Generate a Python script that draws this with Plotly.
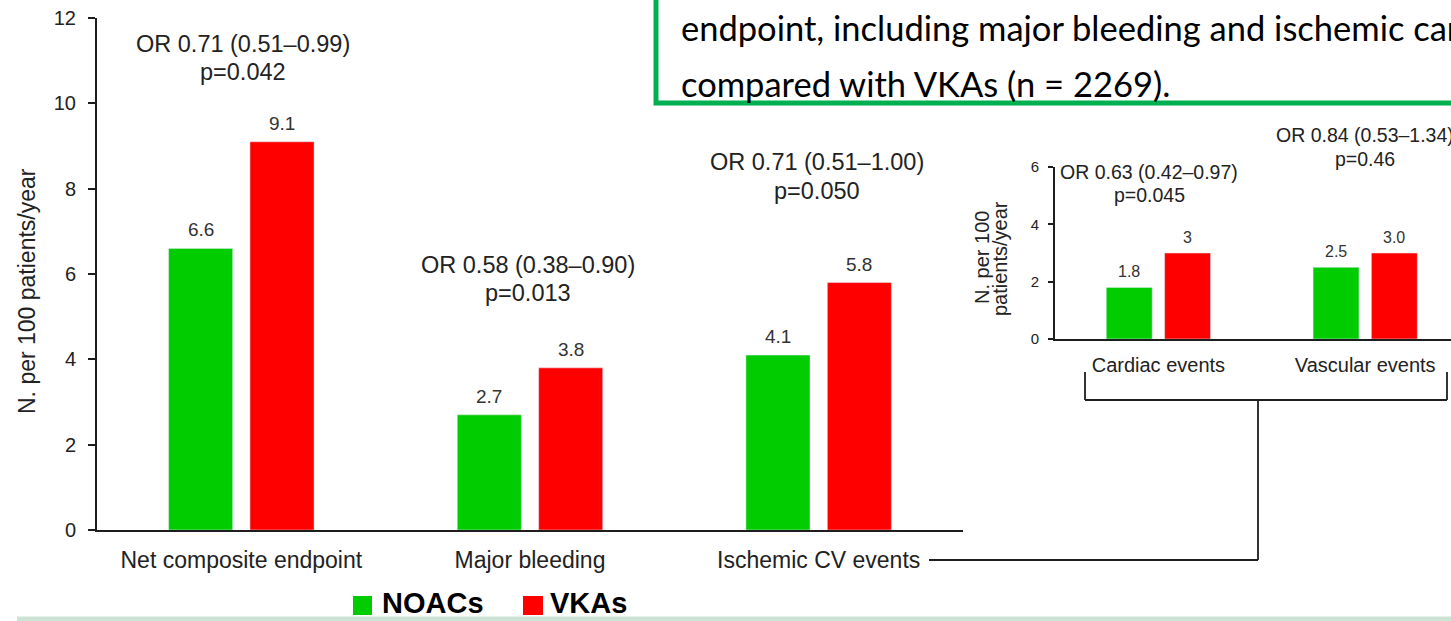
import plotly.graph_objects as go

# ---------------- data ----------------
categories = ["Net composite endpoint", "Major bleeding", "Ischemic CV events"]
noacs = [6.6, 2.7, 4.1]
vkas = [9.1, 3.8, 5.8]
or_text = ["OR 0.71 (0.51–0.99)", "OR 0.58 (0.38–0.90)", "OR 0.71 (0.51–1.00)"]
p_text = ["p=0.042", "p=0.013", "p=0.050"]
y_ticks = [0, 2, 4, 6, 8, 10, 12]

inset_categories = ["Cardiac events", "Vascular events"]
inset_noacs = [1.8, 2.5]
inset_vkas = [3.0, 3.0]
inset_noac_labels = ["1.8", "2.5"]
inset_vka_labels = ["3", "3.0"]
inset_or_text = ["OR 0.63 (0.42–0.97)", "OR 0.84 (0.53–1.34)"]
inset_p_text = ["p=0.045", "p=0.46"]
inset_y_ticks = [0, 2, 4, 6]

series_names = ["NOACs", "VKAs"]
box_lines = ["endpoint, including major bleeding and ischemic cardiovascular events",
             "compared with VKAs (n = 2269)."]

# ---------------- layout constants ----------------
W, H = 1451, 621
GREEN = "#00cc00"
RED = "#ff0000"
DARK = "#1e1e1e"
FONT = "Arial, Liberation Sans, sans-serif"


def px(x):
    return x / W


def py(y):
    return 1 - y / H


BAR_W = 0.222
HALF_GAP = 0.030
OFF_G = -HALF_GAP - BAR_W
OFF_R = HALF_GAP

fig = go.Figure()

fig.add_trace(go.Bar(x=categories, y=noacs, name=series_names[0], marker_color=GREEN,
                     width=BAR_W, offset=OFF_G, xaxis="x", yaxis="y", showlegend=False))
fig.add_trace(go.Bar(x=categories, y=vkas, name=series_names[1], marker_color=RED,
                     width=BAR_W, offset=OFF_R, xaxis="x", yaxis="y", showlegend=False))
fig.add_trace(go.Bar(x=inset_categories, y=inset_noacs, name=series_names[0], marker_color=GREEN,
                     width=BAR_W, offset=OFF_G, xaxis="x2", yaxis="y2", showlegend=False))
fig.add_trace(go.Bar(x=inset_categories, y=inset_vkas, name=series_names[1], marker_color=RED,
                     width=BAR_W, offset=OFF_R, xaxis="x2", yaxis="y2", showlegend=False))

annotations = []


def note(x, y, text, size, color="#222", xanchor="center", yanchor="middle", family=FONT, angle=0):
    annotations.append(dict(x=px(x), y=py(y), xref="paper", yref="paper", text=text,
                            showarrow=False, xanchor=xanchor, yanchor=yanchor, textangle=angle,
                            font=dict(size=size, color=color, family=family)))


# value labels main
for i in range(len(categories)):
    for val, off in ((noacs[i], OFF_G), (vkas[i], OFF_R)):
        annotations.append(dict(x=i + off + BAR_W / 2, y=val, xref="x", yref="y",
                                text=f"{val:.1f}", showarrow=False, yanchor="bottom",
                                yshift=6, font=dict(size=19, color="#333", family=FONT)))
# OR labels main (pixel centres of each line)
or_pos = [(243, 44, 72), (528, 265, 293), (817, 162, 191)]
for i in range(len(categories)):
    x, y1, y2 = or_pos[i]
    note(x, y1, or_text[i], 23.5)
    note(x, y2, p_text[i], 23.5)

# value labels inset
for i in range(len(inset_categories)):
    for val, lab, off in ((inset_noacs[i], inset_noac_labels[i], OFF_G),
                          (inset_vkas[i], inset_vka_labels[i], OFF_R)):
        annotations.append(dict(x=i + off + BAR_W / 2, y=val, xref="x2", yref="y2",
                                text=lab, showarrow=False, yanchor="bottom",
                                yshift=5, font=dict(size=16, color="#333", family=FONT)))
inset_or_pos = [(1149, 172, 195), (1365, 135, 159)]
for i in range(len(inset_categories)):
    x, y1, y2 = inset_or_pos[i]
    note(x, y1, inset_or_text[i], 19.5)
    note(x, y2, inset_p_text[i], 19.5)

# y titles
note(27, 291, "N. per 100 patients/year", 23, angle=-90)
note(982, 258, "N. per 100", 20, angle=-90)
note(1000, 259, "patients/year", 20, angle=-90)

# legend text
note(380, 603, "<b>NOACs</b>", 29, color="#000", xanchor="left")
note(548, 603, "<b>VKAs</b>", 29, color="#000", xanchor="left")

# green box text
BOX_FONT = "Lato, Open Sans, sans-serif"
note(679, 28, box_lines[0], 34.5, color="#000", xanchor="left", family=BOX_FONT)
note(679, 83, box_lines[1], 34.5, color="#000", xanchor="left", family=BOX_FONT)

shapes = []


def line(x0, y0, x1, y1, w=1.8, c=DARK):
    shapes.append(dict(type="line", xref="paper", yref="paper", x0=px(x0), y0=py(y0),
                       x1=px(x1), y1=py(y1), line=dict(color=c, width=w)))


# bracket from Ischemic CV events to inset
line(929, 560, 1258, 560)
line(1258, 560, 1258, 400)
line(1085, 400, 1447, 400)
line(1085, 372, 1085, 400)
line(1447, 372, 1447, 400)

# green box
shapes.append(dict(type="rect", xref="paper", yref="paper", x0=px(656), x1=px(1520),
                   y0=py(103), y1=py(-30), line=dict(color="#00b050", width=5),
                   fillcolor="white", layer="below"))
# legend squares
shapes.append(dict(type="rect", xref="paper", yref="paper", x0=px(353), x1=px(372),
                   y0=py(615), y1=py(596), line=dict(width=0), fillcolor=GREEN))
shapes.append(dict(type="rect", xref="paper", yref="paper", x0=px(523), x1=px(543),
                   y0=py(615), y1=py(596), line=dict(width=0), fillcolor=RED))
# bottom band
shapes.append(dict(type="rect", xref="paper", yref="paper", x0=px(17), x1=1.0,
                   y0=0, y1=py(616.5), line=dict(width=0), fillcolor="#cde3d6"))

axis_common = dict(showline=True, linecolor=DARK, linewidth=2, showgrid=False,
                   zeroline=False, fixedrange=True, automargin=False)

fig.update_layout(
    width=W, height=H, margin=dict(l=0, r=0, t=0, b=0, pad=0, autoexpand=False),
    autosize=False,
    paper_bgcolor="white", plot_bgcolor="rgba(0,0,0,0)",
    font=dict(family=FONT, color="#222"),
    barmode="overlay",
    xaxis=dict(domain=[px(97), px(963)], range=[-0.5, 2.5], type="category",
               ticks="", ticklabelstandoff=8,
               tickfont=dict(size=23, color="#222", family=FONT), anchor="y", **axis_common),
    yaxis=dict(domain=[py(530), py(18)], range=[0, 12], tickvals=y_ticks,
               ticks="outside", ticklen=7, tickwidth=2, tickcolor=DARK, ticklabelstandoff=8,
               tickfont=dict(size=20, color="#222", family=FONT), anchor="x", **axis_common),
    xaxis2=dict(domain=[px(1055), 1.0], range=[-0.5, 1.415], type="category",
                ticks="", ticklabelstandoff=7,
                tickfont=dict(size=20, color="#222", family=FONT), anchor="y2", **axis_common),
    yaxis2=dict(domain=[py(339), py(167)], range=[0, 6], tickvals=inset_y_ticks,
                ticks="outside", ticklen=5, tickwidth=2, tickcolor=DARK, ticklabelstandoff=6,
                tickfont=dict(size=15, color="#222", family=FONT), anchor="x2", **axis_common),
    annotations=annotations,
    shapes=shapes,
)

fig.write_html("out.html", post_script="document.body.style.margin='0';document.body.style.overflow='hidden';")
